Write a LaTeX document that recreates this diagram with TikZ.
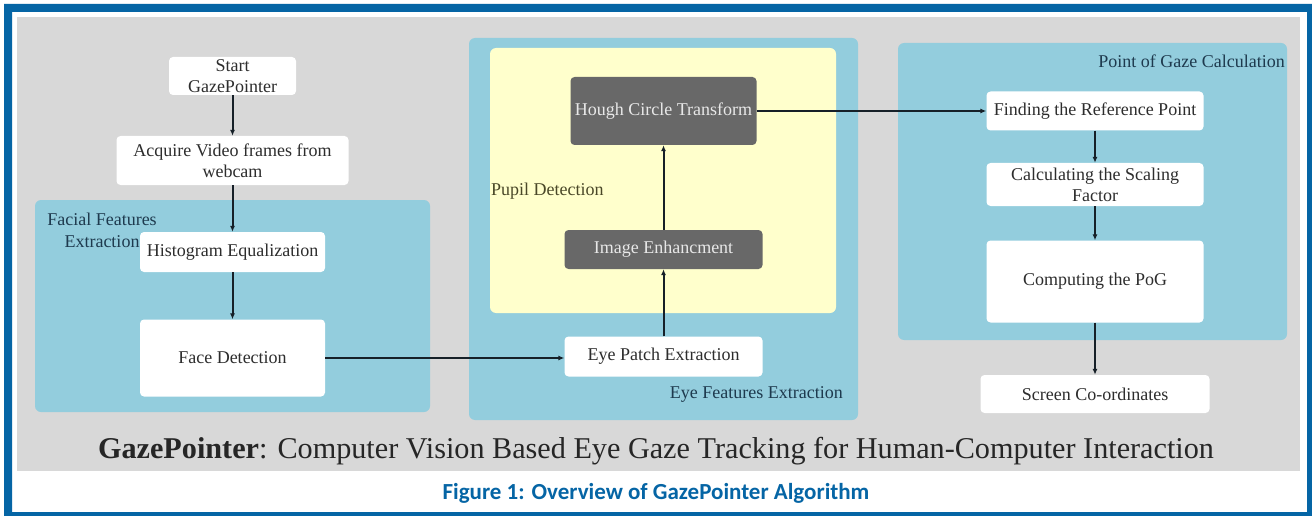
\documentclass[tikz,border=0pt]{standalone}
\usepackage{fontspec}
\setmainfont{Liberation Serif}
\newfontfamily\capfont{Carlito}
\usetikzlibrary{arrows.meta}

\definecolor{framecol}{RGB}{5,101,165}
\definecolor{panelgray}{RGB}{216,216,216}
\definecolor{groupblue}{RGB}{147,205,221}
\definecolor{pupilyellow}{RGB}{255,255,204}
\definecolor{stepgray}{RGB}{104,104,104}
\definecolor{boxtext}{RGB}{45,45,45}
\definecolor{steptext}{RGB}{232,232,232}
\definecolor{groupnavy}{RGB}{30,58,78}
\definecolor{groupolive}{RGB}{74,72,40}
\definecolor{flowcol}{RGB}{22,32,40}

\tikzset{
  procbox/.style={fill=white,rounded corners=4pt,text=boxtext,align=center,
    inner sep=0pt,font=\fontsize{18}{21}\selectfont},
  darkbox/.style={procbox,fill=stepgray,text=steptext},
  grouplabel/.style={inner sep=1pt,text=groupnavy,font=\fontsize{18}{22}\selectfont},
  flow/.style={-{Latex[length=6pt,width=5pt]},line width=2pt,flowcol}
}

\begin{document}
\begin{tikzpicture}[x=1pt,y=-1pt]
            \useasboundingbox (0,0) rectangle (1312,516);
            \fill[white] (0,0) rectangle (1312,516);
            \fill[framecol,even odd rule] (4,4) rectangle (1312,516) (12,12) rectangle (1307,512);
            \fill[panelgray] (17,17) rectangle (1300,471);

            % group panels
            \fill[groupblue,rounded corners=6pt] (35,200) rectangle (430,412);
            \fill[groupblue,rounded corners=6pt] (469,38) rectangle (858,420);
            \fill[pupilyellow,rounded corners=6pt] (490,48) rectangle (836,313);
            \fill[groupblue,rounded corners=6pt] (898,43) rectangle (1287,340);

            \node[grouplabel,align=center] (facial) at (102,230) {Facial Features\\Extraction};
            \node[grouplabel,text=groupolive,anchor=west] (pupil) at (490,191) {Pupil Detection};
            \node[grouplabel,anchor=east] (eyefeat) at (844,394) {Eye Features Extraction};
            \node[grouplabel,anchor=east] (pogcalc) at (1286,61) {Point of Gaze Calculation};

            % left column
            \node[procbox,minimum width=127pt,minimum height=38pt] (start) at (232.5,76) {Start\\GazePointer};
            \node[procbox,minimum width=232pt,minimum height=49pt] (acquire) at (232.5,160.5) {Acquire Video frames from\\webcam};
            \node[procbox,minimum width=185pt,minimum height=40pt] (histeq) at (232.5,252) {Histogram Equalization};
            \node[procbox,minimum width=185pt,minimum height=77pt] (face) at (232.5,358) {Face Detection};

            % eye column
            \node[procbox,minimum width=198pt,minimum height=40pt] (eyepatch) at (663.5,356.5) {Eye Patch Extraction};
            \node[darkbox,minimum width=198pt,minimum height=39pt] (enhance) at (663.5,249.5) {Image Enhancment};
            \node[darkbox,minimum width=186pt,minimum height=68pt] (hough) at (663.5,111) {Hough Circle Transform};

            % gaze column
            \node[procbox,minimum width=217pt,minimum height=39pt] (refpoint) at (1095,111) {Finding the Reference Point};
            \node[procbox,minimum width=217pt,minimum height=43pt] (scaling) at (1095,184.5) {Calculating the Scaling\\Factor};
            \node[procbox,minimum width=217pt,minimum height=82pt] (pog) at (1095,281.5) {Computing the PoG};
            \node[procbox,minimum width=229pt,minimum height=38pt] (screen) at (1095,394) {Screen Co-ordinates};

            \draw[flow] (start) -- (acquire);
            \draw[flow] (acquire) -- (histeq);
            \draw[flow] (histeq) -- (face);
            \draw[flow] (face.east) -- (face.east -| eyepatch.west);
            \draw[flow] (eyepatch) -- (enhance);
            \draw[flow] (enhance) -- (hough);
            \draw[flow] (hough) -- (refpoint);
            \draw[flow] (refpoint) -- (scaling);
            \draw[flow] (scaling) -- (pog);
            \draw[flow] (pog) -- (screen);

            \node[text=black!85,font=\fontsize{30.2}{36}\selectfont] (title) at (656,451)
              {\textbf{GazePointer}: Computer Vision Based Eye Gaze Tracking for Human-Computer Interaction};
            \node[text=framecol,font=\capfont\bfseries\fontsize{23}{27}\selectfont] (caption) at (656,493)
              {Figure 1: Overview of GazePointer Algorithm};
\end{tikzpicture}
\end{document}
